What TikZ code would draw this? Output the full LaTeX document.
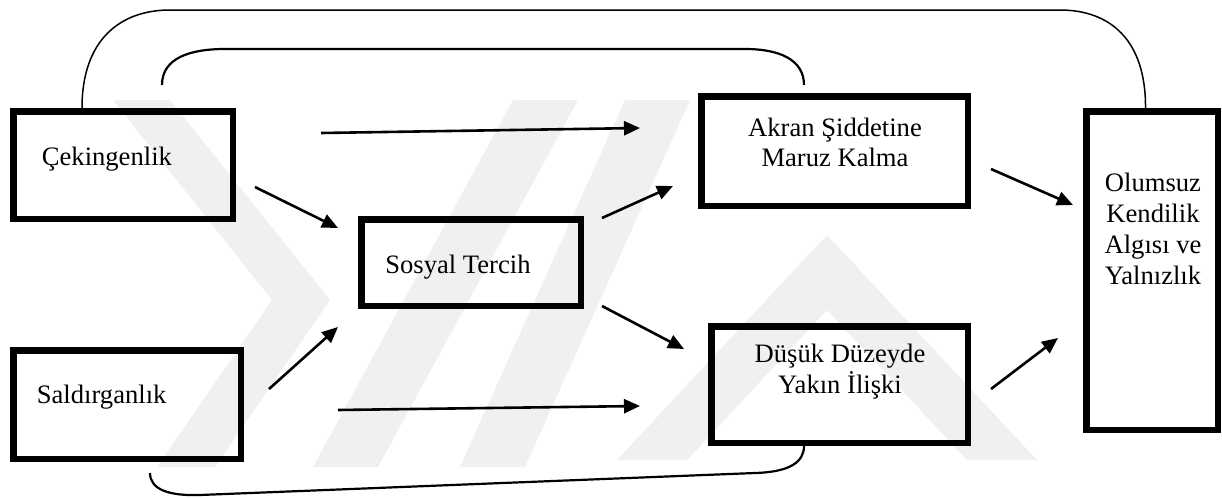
\documentclass[tikz,border=0pt]{standalone}
\usepackage{fontspec}
\setmainfont{Liberation Serif}
\usetikzlibrary{arrows.meta,calc}
\begin{document}
\begin{tikzpicture}[x=0.5pt,y=-0.5pt,
  box/.style={draw=black, line width=3.25pt, inner sep=0pt},
  lbl/.style={inner sep=0pt, font=\fontsize{13.3pt}{15.4pt}\selectfont},
  arr/.style={line width=1.3pt, -{Triangle[length=8pt,width=7pt]}},
  link/.style={line width=1.1pt},
  thinlink/.style={line width=0.75pt},
  wm/.style={fill=black!6, draw=none}]
\useasboundingbox (0,0) rectangle (1222,498);
\fill[white] (0,0) rectangle (1222,498);
% faint watermark
\fill[wm] (113,100) -- (170,100) -- (330,300) -- (215,467) -- (157,467) -- (272,300) -- cycle;
\fill[wm] (313,467) -- (378,467) -- (578,100) -- (513,100) -- cycle;
\fill[wm] (460,467) -- (525,467) -- (690,100) -- (625,100) -- cycle;
\fill[wm] (617,460) -- (827,235) -- (1037,460) -- (967,460) -- (827,310) -- (687,460) -- cycle;
% boxes
\node[box, minimum width=109.75pt, minimum height=53.75pt] (cek) at (123,165) {};
\node[box, minimum width=109.75pt, minimum height=43.25pt] (sos) at (471,262.5) {};
\node[box, minimum width=113.75pt, minimum height=54.25pt] (sal) at (127,404.5) {};
\node[box, minimum width=133.25pt, minimum height=54.75pt] (akr) at (834.5,151) {};
\node[box, minimum width=128.25pt, minimum height=58.25pt] (dus) at (839.5,384.5) {};
\node[box, minimum width=65.75pt, minimum height=159.25pt] (olu) at (1152,270.5) {};
% texts
\node[lbl, anchor=base west] (cekT) at (41.5,165) {Çekingenlik};
\node[lbl, anchor=base west] (sosT) at (385,273) {Sosyal Tercih};
\node[lbl, anchor=base west] (salT) at (36.5,403) {Saldırganlık};
\node[lbl, align=center] (akrT) at (835,142.5) {Akran Şiddetine\\Maruz Kalma};
\node[lbl, align=center] (dusT) at (840,371.5) {Düşük Düzeyde\\Yakın İlişki};
\node[lbl, align=center] (oluT) at (1153,229) {Olumsuz\\Kendilik\\Algısı ve\\Yalnızlık};
% arrow end points
\coordinate (a1s) at (321,133); \coordinate (a1e) at (640,128);
\coordinate (a2s) at (255,187); \coordinate (a2e) at (338,228);
\coordinate (a3s) at (269,389); \coordinate (a3e) at (338,327);
\coordinate (a4s) at (338,410); \coordinate (a4e) at (640,406);
\coordinate (a5s) at (602,218); \coordinate (a5e) at (673,186);
\coordinate (a6s) at (602,306); \coordinate (a6e) at (684,349);
\coordinate (a7s) at (991,169); \coordinate (a7e) at (1073,205);
\coordinate (a8s) at (991,389); \coordinate (a8e) at (1058,338);
\draw[arr] (a1s) -- (a1e);
\draw[arr] (a2s) -- (a2e);
\draw[arr] (a3s) -- (a3e);
\draw[arr] (a4s) -- (a4e);
\draw[arr] (a5s) -- (a5e);
\draw[arr] (a6s) -- (a6e);
\draw[arr] (a7s) -- (a7e);
\draw[arr] (a8s) -- (a8e);
% curved links
\coordinate (ci1) at (162,85);
\coordinate (ci2) at (804,85);
\coordinate (cb1) at (150,473);
\draw[thinlink] ([xshift=36pt]cek.north west) .. controls (82,40) and (120,10) .. (170,10)
  -- (1060,10) .. controls (1110,10) and (1146,40) .. ([xshift=-3.25pt]olu.north);
\draw[link] (ci1) .. controls (162,58) and (190,49) .. (225,49)
  -- (745,49) .. controls (780,49) and (804,60) .. (ci2);
\draw[link] (cb1) .. controls (150,490) and (170,496) .. (200,495)
  -- (755,473) .. controls (790,472) and (804,462) .. ([xshift=-17.75pt]dus.south);
\end{tikzpicture}
\end{document}
